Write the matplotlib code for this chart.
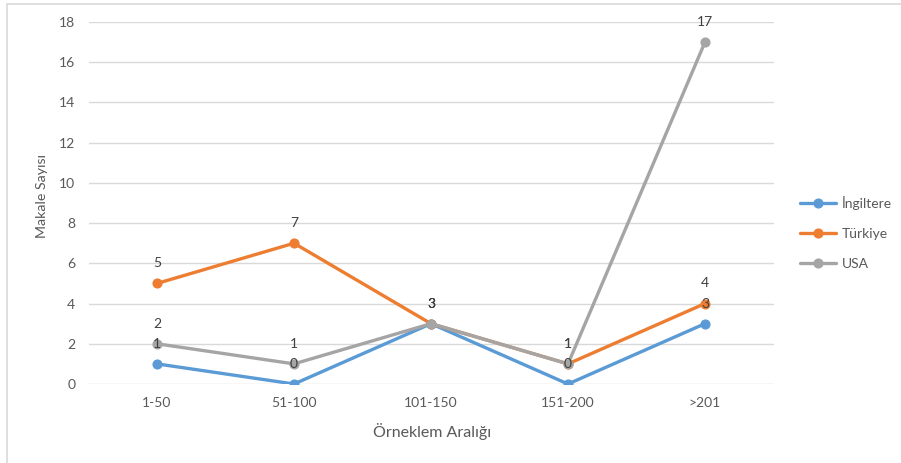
import matplotlib
matplotlib.use("Agg")
import matplotlib.pyplot as plt
from matplotlib.patches import Rectangle

plt.rcParams['font.family'] = ['Lato', 'DejaVu Sans']

categories = ["1-50", "51-100", "101-150", "151-200", ">201"]
ingiltere = [1, 0, 3, 0, 3]
turkiye = [5, 7, 3, 1, 4]
usa = [2, 1, 3, 1, 17]

series = [
    ("İngiltere", ingiltere, "#5B9BD5"),
    ("Türkiye", turkiye, "#ED7D31"),
    ("USA", usa, "#A5A5A5"),
]

W, H = 901, 463
fig = plt.figure(figsize=(W / 100, H / 100), dpi=100)
fig.patch.set_facecolor("white")

# chart frame
fig.patches.append(Rectangle((7 / W, -0.1), 1.2, 1 - 4 / H + 0.1,
                             transform=fig.transFigure, fill=False,
                             edgecolor="#D9D9D9", linewidth=1.2, zorder=0))

ax = fig.add_axes([88.5 / W, 1 - 384 / H, 685 / W, 362 / H])
ax.set_facecolor("none")
x = list(range(len(categories)))

for name, vals, col in series:
    ax.plot(x, vals, color=col, linewidth=2.4, marker="o", markersize=6.3,
            label=name, solid_capstyle="round", zorder=3)

for name, vals, col in series:
    for xi, v in zip(x, vals):
        ax.annotate(str(v), (xi, v), xytext=(0, 14.5), textcoords="offset points",
                    ha="center", va="center", fontsize=10, color="#404040",
                    zorder=5)

ax.set_xlim(-0.5, len(categories) - 0.5)
ax.set_ylim(0, 18)
ax.set_yticks(range(0, 19, 2))
ax.set_xticks(x)
ax.set_xticklabels(categories)
ax.grid(axis="y", color="#D9D9D9", linewidth=1)
ax.set_axisbelow(True)
for s in ax.spines.values():
    s.set_visible(False)
ax.tick_params(axis="both", length=0, labelsize=10, colors="#595959")
ax.tick_params(axis="x", pad=9.5)
ax.tick_params(axis="y", pad=9.5)

fig.text(42 / W, 1 - 196 / H, "Makale Sayısı", rotation=90, ha="center",
         va="center", fontsize=10.2, color="#595959")
fig.text(432 / W, 1 - 432 / H, "Örneklem Aralığı", ha="center", va="center",
         fontsize=11.5, color="#595959")

leg = fig.legend(loc="upper left", bbox_to_anchor=(800 / W, 1 - 196 / H),
                 frameon=False, fontsize=10, handlelength=2.6,
                 handletextpad=0.4, labelspacing=1.3, borderpad=0,
                 borderaxespad=0)
for t in leg.get_texts():
    t.set_color("#595959")

fig.savefig("out.png", dpi=100, facecolor="white")
